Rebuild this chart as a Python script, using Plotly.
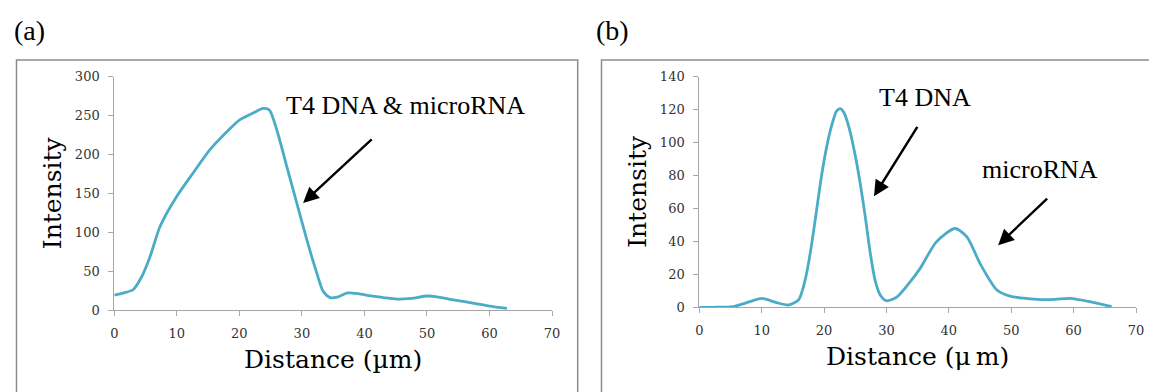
import plotly.graph_objects as go

# Panel (a): T4 DNA & microRNA co-localised profile
dist_a = [0, 1.5, 3, 4.4, 5.7, 7.3, 10, 12.6, 15.3, 18, 20, 22.2, 23.8, 24.8, 26, 27.6,
          29.2, 30.8, 32.4, 33.4, 34.5, 35.8, 37.3, 39, 41, 43, 45.2, 47.5, 50, 51.6,
          53.5, 55.8, 58, 60, 62.8]
int_a = [19, 22, 26, 43, 68, 107, 146, 176, 206, 229, 244, 253, 259, 257, 231, 184,
         137, 90, 47, 24, 16, 17, 22, 21, 18, 16, 14, 15, 18, 17, 14, 11, 8, 5, 2]

# Panel (b): separated T4 DNA and microRNA peaks
dist_b = [0, 2.2, 5.4, 7.6, 10, 12.4, 14.3, 15.9, 16.5, 17.2, 18, 18.8, 19.6, 20.4,
          21.2, 22.0, 22.6, 23.2, 24.0, 25, 25.8, 26.6, 27.4, 28.2, 29, 30, 31.6, 33.5,
          35.4, 38, 41, 42.9, 45, 47.7, 49.8, 52, 54.1, 57, 59.4, 62.6, 66.1]
int_b = [0, 0, 0.4, 2.8, 5.4, 2.8, 1.4, 4.4, 10, 20.6, 38, 59, 80, 97,
         110, 119, 120.5, 118, 109, 92, 75, 55, 33, 16, 7.5, 4, 6, 14,
         23.6, 39.7, 47.8, 42.7, 26.6, 10.5, 6.8, 5.5, 4.8, 4.8, 5.4, 3.4, 0.4]

x_ticks = [0, 10, 20, 30, 40, 50, 60, 70]
y_ticks_a = [0, 50, 100, 150, 200, 250, 300]
y_ticks_b = [0, 20, 40, 60, 80, 100, 120, 140]

LINE = "#4BACC6"
W, H = 1149, 392

fig = go.Figure()
fig.add_trace(go.Scatter(x=dist_a, y=int_a, mode="lines", xaxis="x", yaxis="y",
                         line=dict(color=LINE, width=2.8, shape="spline", smoothing=0.7),
                         showlegend=False, hoverinfo="skip"))
fig.add_trace(go.Scatter(x=dist_b, y=int_b, mode="lines", xaxis="x2", yaxis="y2",
                         line=dict(color=LINE, width=2.8, shape="spline", smoothing=0.7),
                         showlegend=False, hoverinfo="skip"))

tickfont = dict(family="DejaVu Serif", size=13, color="#333333")
titlefont = dict(family="DejaVu Serif", size=25, color="#000000")

def xax(domain, anchor, title):
    return dict(domain=domain, anchor=anchor, range=[0, 70], tickvals=x_ticks,
                showgrid=False, zeroline=False, showline=True, linecolor="#A6A6A6",
                linewidth=1, ticks="outside", ticklen=5, tickcolor="#A6A6A6",
                tickfont=tickfont, ticklabelstandoff=6, automargin=False,
                title=dict(text=title, font=titlefont, standoff=10), fixedrange=True)

def yax(domain, anchor, rng, vals):
    return dict(domain=domain, anchor=anchor, range=rng, tickvals=vals,
                showgrid=False, zeroline=False, showline=True, linecolor="#A6A6A6",
                linewidth=1, ticks="outside", ticklen=5, tickcolor="#A6A6A6",
                tickfont=tickfont, ticklabelstandoff=6, automargin=False,
                title=dict(text="Intensity", font=titlefont, standoff=6), fixedrange=True)

fig.update_layout(
    width=W, height=H, autosize=False,
    margin=dict(l=0, r=0, t=0, b=0, pad=0, autoexpand=False),
    paper_bgcolor="white", plot_bgcolor="white",
    xaxis=xax([114.3 / W, 552 / W], "y", "Distance (µm)"),
    yaxis=yax([1 - 310 / H, 1 - 76.5 / H], "x", [0, 300], y_ticks_a),
    xaxis2=xax([699.3 / W, 1136 / W], "y2", "Distance (μ\u2009m)"),
    yaxis2=yax([1 - 307.3 / H, 1 - 76.5 / H], "x2", [0, 140], y_ticks_b),
)

# Frames around panels
fig.add_shape(type="rect", xref="paper", yref="paper",
              x0=16.5 / W, x1=577.7 / W, y0=-0.05, y1=1 - 60 / H,
              line=dict(color="#8C8C8C", width=1.5), fillcolor="rgba(0,0,0,0)")
fig.add_shape(type="rect", xref="paper", yref="paper",
              x0=601.5 / W, x1=1.05, y0=-0.05, y1=1 - 60 / H,
              line=dict(color="#8C8C8C", width=1.5), fillcolor="rgba(0,0,0,0)")

serif = dict(family="Liberation Serif", size=26, color="#000000")
letter = dict(family="Liberation Serif", size=28, color="#000000")

fig.add_annotation(text="(a)", xref="paper", yref="paper", x=29.5 / W, y=1 - 30 / H,
                   xanchor="center", yanchor="middle", showarrow=False, font=letter)
fig.add_annotation(text="(b)", xref="paper", yref="paper", x=612.5 / W, y=1 - 30 / H,
                   xanchor="center", yanchor="middle", showarrow=False, font=letter)

fig.add_annotation(text="T4 DNA &amp; microRNA", xref="x", yref="y", x=46.5, y=263,
                   xanchor="center", yanchor="middle", showarrow=False, font=serif)
fig.add_annotation(text="T4 DNA", xref="x2", yref="y2", x=36.2, y=127,
                   xanchor="center", yanchor="middle", showarrow=False, font=serif)
fig.add_annotation(text="microRNA", xref="x2", yref="y2", x=54.6, y=83.7,
                   xanchor="center", yanchor="middle", showarrow=False, font=serif)

arrow = dict(showarrow=True, text="", arrowhead=2, arrowsize=1.3, arrowwidth=2.4,
             arrowcolor="#000000")
fig.add_annotation(xref="x", yref="y", axref="x", ayref="y",
                   x=30.2, y=137.5, ax=41.4, ay=221, **arrow)
fig.add_annotation(xref="x2", yref="y2", axref="x2", ayref="y2",
                   x=28.0, y=67.4, ax=35.1, ay=110.3, **arrow)
fig.add_annotation(xref="x2", yref="y2", axref="x2", ayref="y2",
                   x=47.9, y=37.7, ax=56.0, ay=66.8, **arrow)

post = (
    "document.documentElement.style.margin='0';"
    "document.documentElement.style.overflow='hidden';"
    "document.body.style.margin='0';document.body.style.padding='0';"
    "document.body.style.overflow='hidden';"
)
fig.write_html("out.html", config={"responsive": False, "displayModeBar": False},
               post_script=post)
